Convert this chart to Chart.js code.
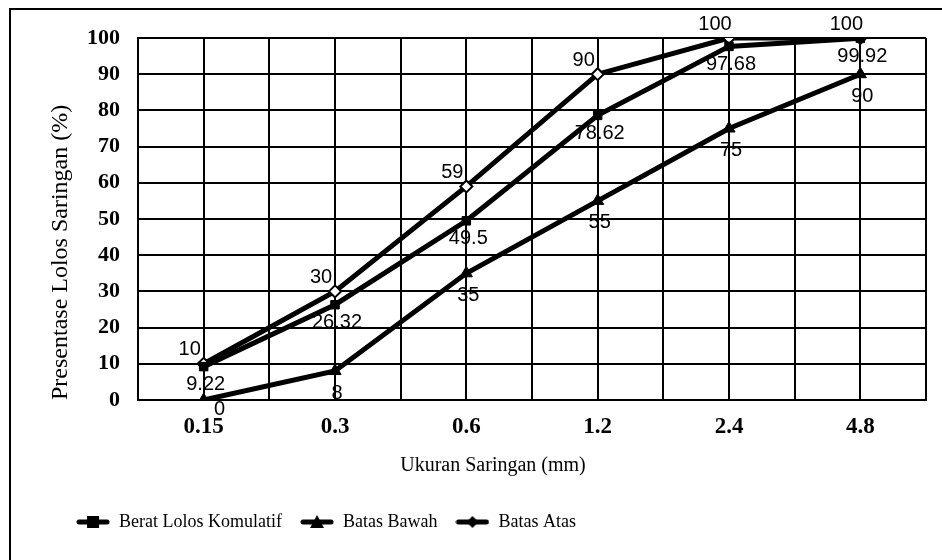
<!DOCTYPE html>
<html>
<head>
<meta charset="utf-8">
<script src="https://cdn.jsdelivr.net/npm/chart.js@4/dist/chart.umd.min.js"></script>
<style>
  html, body { margin: 0; padding: 0; background: #fff; }
  #wrap { width: 942px; height: 560px; }
</style>
</head>
<body>
<div id="wrap"><canvas id="myChart" width="942" height="560"></canvas></div>
<script>
const sizes = ['0.15', '0.3', '0.6', '1.2', '2.4', '4.8']
const beratLolos = [9.22, 26.32, 49.5, 78.62, 97.68, 99.92]
const batasBawah = [0, 8, 35, 55, 75, 90]
const batasAtas = [10, 30, 59, 90, 100, 100]
const yTicks = [0, 10, 20, 30, 40, 50, 60, 70, 80, 90, 100]

const serif = '"Liberation Serif", "Times New Roman", serif'
const sans = '"Liberation Sans", Arial, sans-serif'

const toPoints = arr => arr.map((v, i) => ({ x: i, y: v }))

// legend icon: short thick line with the marker in the middle
function legendIcon(style, fill) {
  const c = document.createElement('canvas')
  c.width = 34
  c.height = 16
  const g = c.getContext('2d')
  g.strokeStyle = '#000'
  g.lineWidth = 5
  g.lineCap = 'round'
  g.beginPath()
  g.moveTo(3, 8)
  g.lineTo(31, 8)
  g.stroke()
  g.fillStyle = fill
  g.lineWidth = 2
  if (style === 'rect') {
    g.fillRect(11, 2, 12, 12)
  } else if (style === 'triangle') {
    g.beginPath()
    g.moveTo(17, 1); g.lineTo(24, 14); g.lineTo(10, 14); g.closePath()
    g.fill()
  } else {
    g.beginPath()
    g.moveTo(17, 2); g.lineTo(23, 8); g.lineTo(17, 14); g.lineTo(11, 8); g.closePath()
    g.fill()
  }
  return c
}

const labelOffsets = [
  { dx: 2, dy: 18 },    // Berat Lolos Komulatif, below
  { dx: 2, dy: 22 },    // Batas Bawah, below
  { dx: -14, dy: -14 }  // Batas Atas, above left
]

const valueLabels = {
  id: 'valueLabels',
  afterDatasetsDraw(chart) {
    const ctx = chart.ctx
    const bottom = chart.chartArea.bottom
    ctx.save()
    ctx.font = '20px ' + sans
    ctx.fillStyle = '#000'
    ctx.textAlign = 'center'
    ctx.textBaseline = 'middle'
    chart.data.datasets.forEach((ds, di) => {
      const meta = chart.getDatasetMeta(di)
      meta.data.forEach((pt, i) => {
        const o = labelOffsets[di]
        let x = pt.x + o.dx
        let y = pt.y + o.dy
        // keep labels clear of the category ticks, like Excel nudges them
        if (y > bottom + 9) { y = bottom + 9; x += 14 }
        ctx.fillText(String(ds.data[i].y), x, y)
      })
    })
    ctx.restore()
  }
}

const frame = {
  id: 'frame',
  beforeDraw(chart) {
    const ctx = chart.ctx
    ctx.save()
    ctx.fillStyle = '#fff'
    ctx.fillRect(0, 0, chart.width, chart.height)
    ctx.strokeStyle = '#000'
    ctx.lineWidth = 2
    ctx.strokeRect(10, 9, 1000, 1000)
    ctx.restore()
    // the legend in the original sits left of centre
    if (chart.legend) {
      chart.legend.left = 0
      chart.legend.right = 652
    }
  },
  afterDraw(chart) {
    // x axis title, placed off centre as in the original
    const ctx = chart.ctx
    ctx.save()
    ctx.font = '20px ' + serif
    ctx.fillStyle = '#000'
    ctx.textAlign = 'center'
    ctx.textBaseline = 'middle'
    ctx.fillText('Ukuran Saringan (mm)', chart.chartArea.left + 355, chart.chartArea.bottom + 66)
    ctx.restore()
  }
}

const ctx = document.getElementById('myChart')

const data = {
  datasets: [
    {
      label: 'Berat Lolos Komulatif',
      data: toPoints(beratLolos),
      borderColor: '#000',
      backgroundColor: '#000',
      borderWidth: 5,
      pointStyle: 'rect',
      pointRadius: 6,
      pointBorderWidth: 1,
      legendIcon: legendIcon('rect', '#000')
    },
    {
      label: 'Batas Bawah',
      data: toPoints(batasBawah),
      borderColor: '#000',
      backgroundColor: '#000',
      borderWidth: 5,
      pointStyle: 'triangle',
      pointRadius: 7,
      pointBorderWidth: 1,
      legendIcon: legendIcon('triangle', '#000')
    },
    {
      label: 'Batas Atas',
      data: toPoints(batasAtas),
      borderColor: '#000',
      backgroundColor: '#fff',
      pointBackgroundColor: '#fff',
      pointBorderColor: '#000',
      borderWidth: 5,
      pointStyle: 'rectRot',
      pointRadius: 6,
      pointBorderWidth: 2,
      legendIcon: legendIcon('diamond', '#000')
    }
  ]
}

const config = {
  type: 'line',
  data: data,
  plugins: [frame, valueLabels],
  options: {
    responsive: false,
    animation: false,
    layout: { padding: { left: 0, right: 16, top: 38, bottom: 19 } },
    elements: { line: { tension: 0 } },
    plugins: {
      tooltip: { enabled: false },
      legend: {
        position: 'bottom',
        labels: {
          usePointStyle: true,
          pointStyleWidth: 34,
          boxHeight: 16,
          padding: 18,
          color: '#000',
          font: { family: serif, size: 18 },
          generateLabels(chart) {
            return chart.data.datasets.map((ds, i) => ({
              text: ds.label,
              pointStyle: ds.legendIcon,
              datasetIndex: i,
              fontColor: '#000',
              lineWidth: 0,
              strokeStyle: 'transparent',
              fillStyle: '#000'
            }))
          }
        }
      }
    },
    scales: {
      x: {
        type: 'linear',
        min: -0.5,
        max: 5.5,
        afterFit(scale) { scale.height = 95 },
        ticks: {
          stepSize: 0.5,
          autoSkip: false,
          padding: 13,
          color: '#000',
          font: { family: serif, size: 23, weight: 'bold' },
          callback: v => Number.isInteger(v) ? sizes[v] : ''
        },
        grid: { color: '#000', lineWidth: 2, drawTicks: false },
        border: { color: '#000', width: 2 },
        title: { display: false }
      },
      y: {
        min: 0,
        max: 100,
        afterFit(scale) { scale.width = 138 },
        afterBuildTicks(scale) { scale.ticks = yTicks.map(v => ({ value: v })) },
        ticks: {
          padding: 18,
          color: '#000',
          font: { family: serif, size: 22, weight: 'bold' }
        },
        grid: { color: '#000', lineWidth: 2, drawTicks: false },
        border: { color: '#000', width: 2 },
        title: {
          display: true,
          text: 'Presentase Lolos Saringan (%)',
          align: 'start',
          color: '#000',
          font: { family: serif, size: 24 },
          padding: { top: 46, bottom: 0 }
        }
      }
    }
  }
}

const myChart = new Chart(ctx, config)
</script>
</body>
</html>
